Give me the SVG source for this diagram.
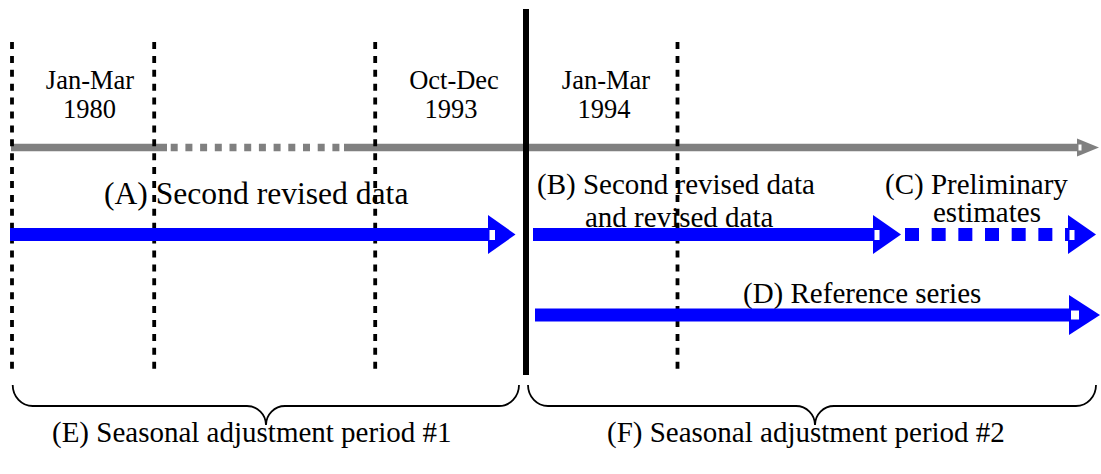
<svg xmlns="http://www.w3.org/2000/svg" width="1101" height="474" viewBox="0 0 1101 474">
<style>
.t27{font-size:26.5px;text-anchor:middle}
.t29{font-size:29px}
.t32{font-size:31.6px}
.vd{stroke:#000;stroke-width:3.8;stroke-dasharray:7 6.9;fill:none}
.gray{stroke:#808080;stroke-width:7.5;fill:none}
.blue{stroke:#0000ff;stroke-width:13;fill:none}
.bh{fill:#0000ff}
.gh{fill:#808080}
.notch{fill:#fff}
.brace{stroke:#000;stroke-width:1.8;fill:none}
</style>
<rect width="1101" height="474" fill="#fff"/>
<g font-family="Liberation Serif, Times New Roman, DejaVu Serif, serif" fill="#000">
<g id="labels-top">
<text class="t27" x="90" y="89">Jan-Mar</text>
<text class="t27" x="89.5" y="118">1980</text>
<text class="t27" x="454" y="89">Oct-Dec</text>
<text class="t27" x="451" y="118">1993</text>
<text class="t27" x="606" y="89">Jan-Mar</text>
<text class="t27" x="604" y="118">1994</text>
</g>
<g id="labels-series">
<text class="t32" x="104" y="204">(A) Second revised data</text>
<text class="t29" x="537" y="194">(B) Second revised data</text>
<text class="t29" x="585" y="227">and revised data</text>
<text class="t29" x="885" y="194">(C) Preliminary</text>
<text class="t29" x="933" y="222">estimates</text>
<text class="t29" x="743" y="303">(D) Reference series</text>
</g>
</g>
<g id="timeline">
<line x1="11" y1="147.5" x2="167" y2="147.5" class="gray"/>
<line x1="170.7" y1="147.5" x2="341" y2="147.5" class="gray" stroke-dasharray="7 7.7"/>
<line x1="344" y1="147.5" x2="1079" y2="147.5" class="gray"/>
<polygon points="1077,138.5 1099,147.5 1077,156.5" class="gh"/>
<rect x="1078.5" y="144.5" width="3" height="6" class="notch"/>
</g>
<g id="period-lines">
<line x1="12" y1="42" x2="12" y2="370" class="vd"/>
<line x1="154.2" y1="42" x2="154.2" y2="370" class="vd"/>
<line x1="375.2" y1="42" x2="375.2" y2="370" class="vd"/>
<line x1="677.5" y1="42" x2="677.5" y2="370" class="vd"/>
<line x1="526" y1="9" x2="526" y2="375" stroke="#000" stroke-width="6"/>
</g>
<g id="connectors">
<g id="arrow-A">
<line x1="10" y1="234.5" x2="490" y2="234.5" class="blue"/>
<polygon points="488,215 515.5,234.5 488,254" class="bh"/>
<rect x="489.5" y="230" width="5.5" height="10" class="notch"/>
</g>
<g id="arrow-B">
<line x1="533" y1="234.5" x2="875" y2="234.5" class="blue"/>
<polygon points="873,215 901,234.5 873,254" class="bh"/>
<rect x="874.5" y="230" width="5" height="10" class="notch"/>
</g>
<g id="arrow-C">
<line x1="905" y1="234.5" x2="1070" y2="234.5" class="blue" stroke-dasharray="14 12.67"/>
<polygon points="1068,215 1096,234.5 1068,254" class="bh"/>
<rect x="1069.5" y="230" width="5" height="10" class="notch"/>
</g>
<g id="arrow-D">
<line x1="535" y1="315" x2="1071" y2="315" class="blue" stroke-width="13.4"/>
<polygon points="1069,295 1100,315 1069,335" class="bh"/>
<rect x="1071" y="310.5" width="8" height="9" class="notch"/>
</g>
</g>
<g id="brace-E">
<path class="brace" d="M12.7,385 A20,21 0 0 0 32.7,406 L247,406 A19,19 0 0 1 266,425 A19,19 0 0 1 285,406 L499,406 A20,21 0 0 0 519,385"/>
<text class="t29" font-family="Liberation Serif, Times New Roman, DejaVu Serif, serif" x="52" y="442">(E) Seasonal adjustment period #1</text>
</g>
<g id="brace-F">
<path class="brace" d="M528,385 A20,21 0 0 0 548,406 L796,406 A19,19 0 0 1 815,425 A19,19 0 0 1 834,406 L1076,406 A20,21 0 0 0 1096,385"/>
<text class="t29" font-family="Liberation Serif, Times New Roman, DejaVu Serif, serif" x="607" y="442">(F) Seasonal adjustment period #2</text>
</g>
</svg>
